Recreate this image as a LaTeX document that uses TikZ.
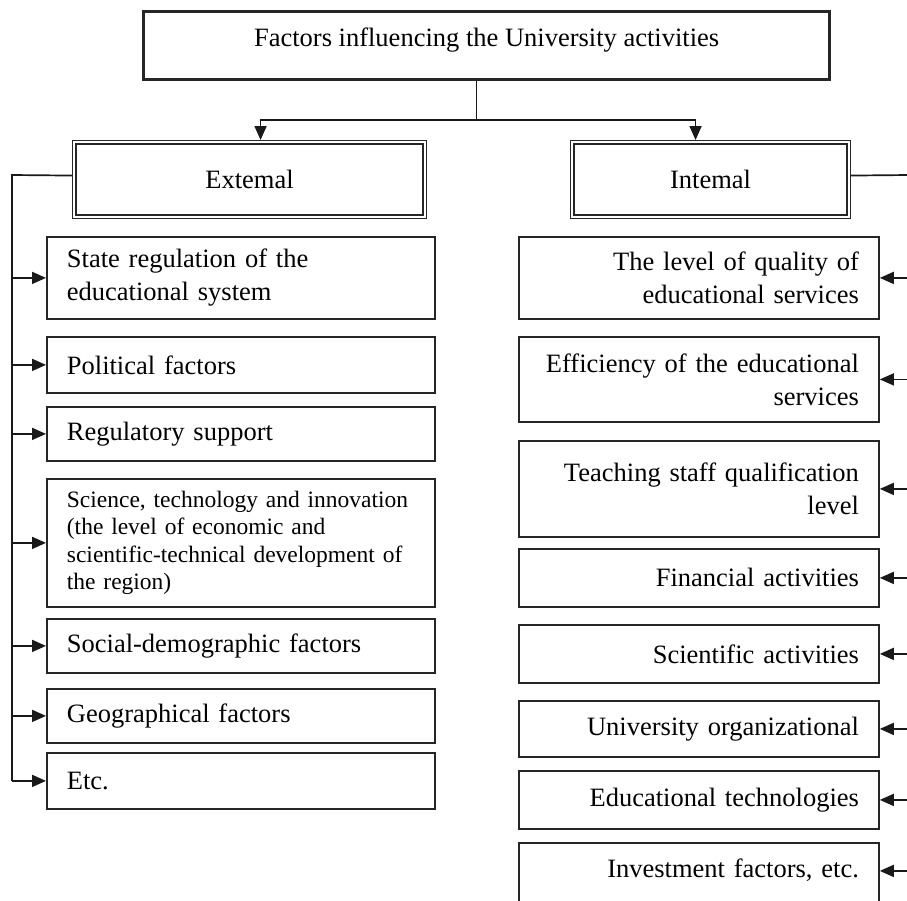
\documentclass[tikz,border=0pt]{standalone}
\usepackage{fontspec}
\setmainfont{Liberation Serif}
\usetikzlibrary{arrows.meta,calc}
\begin{document}
\begin{tikzpicture}[x=1pt,y=-1pt,
  every node/.style={font=\fontsize{26.5}{33}\selectfont, text=black},
  lbox/.style={draw=black!85, line width=1.8pt, anchor=north west, minimum width=388pt, text width=348pt, inner xsep=20pt, inner ysep=0pt, align=left},
  rbox/.style={draw=black!85, line width=1.8pt, anchor=north west, minimum width=360pt, text width=320pt, inner xsep=20pt, inner ysep=0pt, align=right},
  conn/.style={line width=1.7pt, draw=black!90},
  arr/.style={conn, -{Triangle[length=14pt,width=12pt]}},
  headbox/.style={draw=black!85, line width=1.1pt, anchor=north west, minimum height=78pt},
]
\useasboundingbox (0,0) rectangle (907,900);

% top box
\node[draw=black!85, line width=3.2pt, anchor=north west, minimum width=686pt, minimum height=68pt] (top) at (142,10)
  {\raisebox{-1pt}[0pt][0pt]{Factors influencing the University activities}};

% external / internal
\node[headbox, minimum width=354pt] (ext) at (72,140) {Extemal};
\draw[line width=2.4pt, black!85] ([shift={(4pt,-4pt)}]ext.north west) rectangle ([shift={(-4pt,4pt)}]ext.south east);
\node[headbox, minimum width=280pt] (int) at (570,140) {Intemal};
\draw[line width=2.4pt, black!85] ([shift={(4pt,-4pt)}]int.north west) rectangle ([shift={(-4pt,4pt)}]int.south east);

\draw[arr] ([xshift=-10pt]top.south) -- ++(0,39) coordinate (T) -| ([xshift=11pt]ext.north);
\draw[arr] (T) -| ([xshift=-15pt]int.north);

% left boxes
\node[lbox, minimum height=82pt] (l1) at (46,236) {State regulation of the\\educational system};
\node[lbox, minimum height=56pt] (l2) at (46,336) {Political factors};
\node[lbox, minimum height=54pt] (l3) at (46,406) {Regulatory support};
\node[lbox, minimum height=128pt, font=\fontsize{23.5}{27.3}\selectfont] (l4) at (46,478)
  {\makebox[339pt][s]{Science, technology and innovation}\\(the level of economic and\\\makebox[339pt][s]{scientific-technical development of}\\the region)};
\node[lbox, minimum height=54pt] (l5) at (46,618) {Social-demographic factors};
\node[lbox, minimum height=54pt] (l6) at (46,688) {Geographical factors};
\node[lbox, minimum height=56pt] (l7) at (46,752) {Etc.};

% right boxes
\node[rbox, minimum height=82pt] (r1) at (518,236) {The level of quality of\\educational services};
\node[rbox, minimum height=85pt] (r2) at (518,336) {Efficiency of the educational\\services};
\node[rbox, minimum height=96pt] (r3) at (518,440) {Teaching staff qualification\\level};
\node[rbox, minimum height=58pt] (r4) at (518,548) {Financial activities};
\node[rbox, minimum height=58pt] (r5) at (518,624) {Scientific activities};
\node[rbox, minimum height=56pt] (r6) at (518,700) {University organizational};
\node[rbox, minimum height=58pt] (r7) at (518,770) {Educational technologies};
\node[rbox, minimum height=66pt] (r8) at (518,842) {\raisebox{-2pt}[0pt][0pt]{Investment factors, etc.}};

% left bus
\coordinate (L) at (12,175);
\draw[conn] ([yshift=4pt]ext.west) -- (L) -- (L |- l7.west);
\foreach \n in {l1,l2,l3,l4,l5,l6,l7} \draw[arr] (L |- \n.west) -- (\n.west);

% right bus
\coordinate (R) at (909,175);
\draw[conn] ([yshift=4pt]int.east) -- (R) -- (R |- r8.east);
\foreach \n in {r1,r2,r3,r4,r5,r6,r7} \draw[arr] (R |- \n.east) -- (\n.east);
\draw[arr] ([yshift=5pt]R |- r8.east) -- ([yshift=5pt]r8.east);
\end{tikzpicture}
\end{document}
